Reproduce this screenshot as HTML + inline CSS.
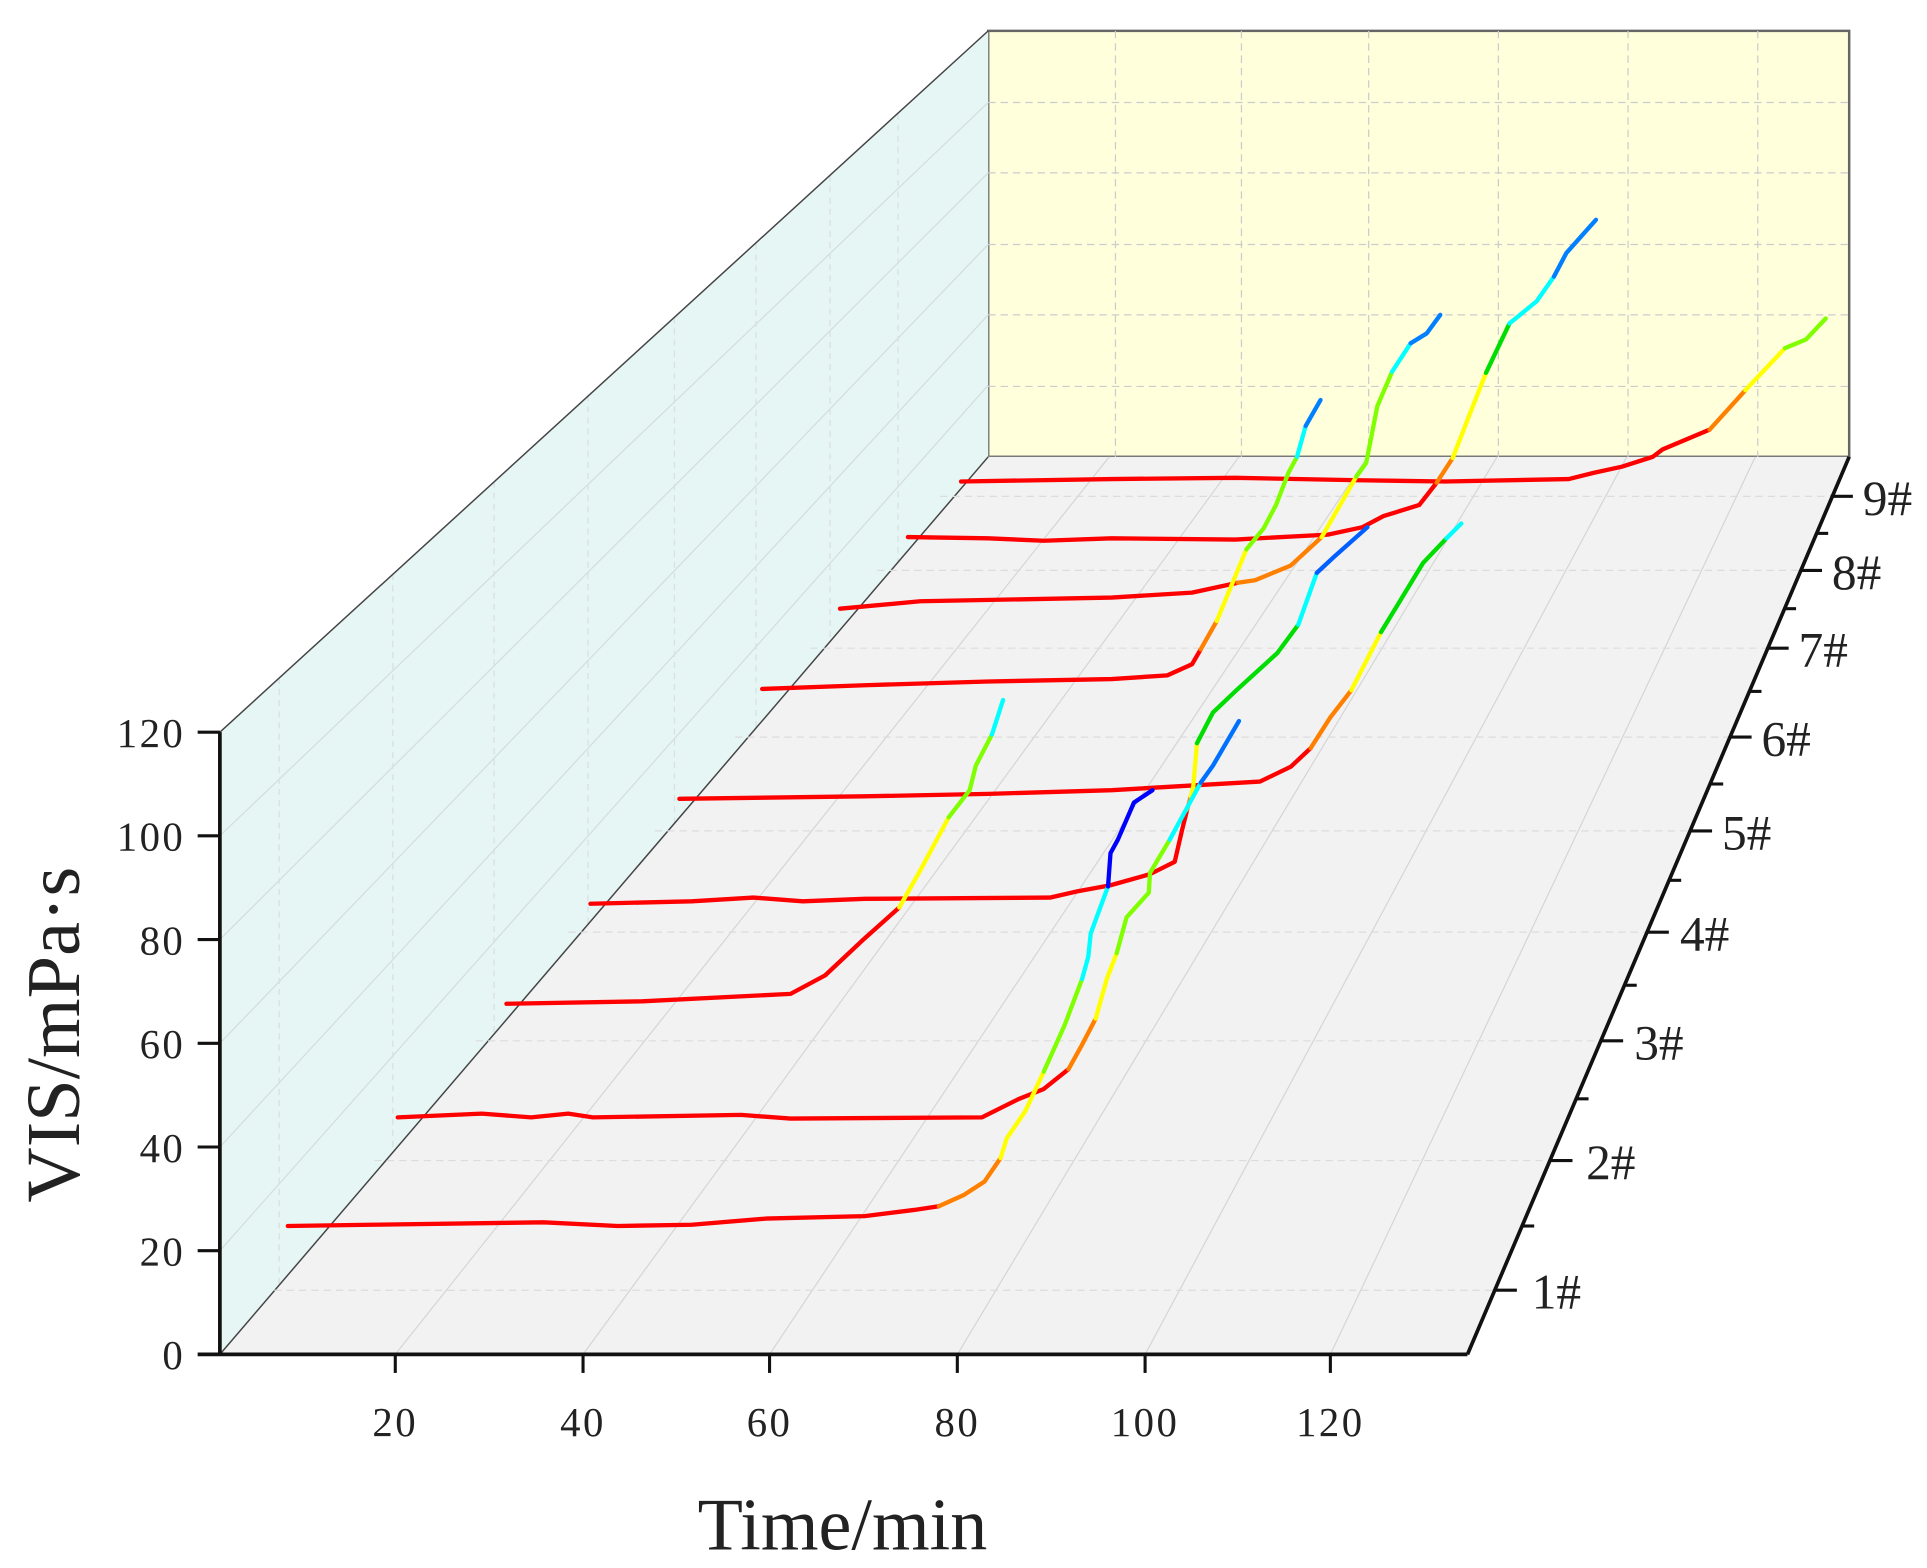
<!DOCTYPE html>
<html><head><meta charset="utf-8"><style>
html,body{margin:0;padding:0;background:#fff;}
svg{display:block;}
text{font-family:"Liberation Serif",serif;fill:#222;}
</style></head><body>
<svg width="1927" height="1568" viewBox="0 0 1560 1270" preserveAspectRatio="none" xmlns="http://www.w3.org/2000/svg">
<rect x="800" y="25" width="697" height="345" fill="#ffffdc" stroke="#666" stroke-width="2"/>
<g stroke="#ccc" stroke-dasharray="6,4" stroke-width="1">
<line x1="903" y1="25" x2="903" y2="370"/><line x1="1005" y1="25" x2="1005" y2="370"/><line x1="1108" y1="25" x2="1108" y2="370"/><line x1="1213" y1="25" x2="1213" y2="370"/><line x1="1318" y1="25" x2="1318" y2="370"/><line x1="1423" y1="25" x2="1423" y2="370"/>
<line x1="800" y1="83" x2="1497" y2="83"/><line x1="800" y1="140" x2="1497" y2="140"/><line x1="800" y1="198" x2="1497" y2="198"/><line x1="800" y1="255" x2="1497" y2="255"/><line x1="800" y1="313" x2="1497" y2="313"/>
</g>
<polygon points="178,593 800,25 800,370 178,1097" fill="#e6f6f5" stroke="none"/>
<g stroke="#d3dede" stroke-width="1">
<line x1="178" y1="1013" x2="800" y2="312"/><line x1="178" y1="929" x2="800" y2="255"/><line x1="178" y1="845" x2="800" y2="198"/><line x1="178" y1="761" x2="800" y2="140"/><line x1="178" y1="677" x2="800" y2="83"/>
</g>
<g stroke="#d8e0e0" stroke-dasharray="5,4" stroke-width="1">
<line x1="226" y1="549" x2="226" y2="1040"/><line x1="318" y1="465" x2="318" y2="935"/><line x1="400" y1="390" x2="400" y2="840"/><line x1="476" y1="320" x2="476" y2="750"/><line x1="546" y1="257" x2="546" y2="670"/><line x1="612" y1="197" x2="612" y2="590"/><line x1="672" y1="142" x2="672" y2="520"/><line x1="727" y1="92" x2="727" y2="455"/>
</g>
<line x1="178" y1="593" x2="800" y2="25" stroke="#444" stroke-width="1.2"/>
<polygon points="178,1097 1188,1097 1497,370 800,370" fill="#f2f2f2"/>
<line x1="178" y1="1097" x2="800" y2="370" stroke="#444" stroke-width="1.2"/>
<g stroke="#d6d6d6" stroke-width="1">
<line x1="320" y1="1097" x2="898" y2="370"/><line x1="472" y1="1097" x2="1003" y2="370"/><line x1="623" y1="1097" x2="1107" y2="370"/><line x1="775" y1="1097" x2="1212" y2="370"/><line x1="927" y1="1097" x2="1317" y2="370"/><line x1="1077" y1="1097" x2="1421" y2="370"/>
</g>
<g stroke="#dcdcdc" stroke-dasharray="6,4" stroke-width="1">
<line x1="222" y1="1045" x2="1210" y2="1045"/><line x1="303" y1="940" x2="1255" y2="940"/><line x1="385" y1="843" x2="1296" y2="843"/><line x1="460" y1="755" x2="1333" y2="755"/><line x1="530" y1="673" x2="1368" y2="673"/><line x1="595" y1="597" x2="1400" y2="597"/><line x1="656" y1="525" x2="1430" y2="525"/><line x1="710" y1="462" x2="1457" y2="462"/><line x1="761" y1="402" x2="1482" y2="402"/>
</g>
<g stroke="#111" stroke-width="3" fill="none">
<line x1="178" y1="593" x2="178" y2="1097"/>
<line x1="160" y1="1097" x2="1188" y2="1097"/>
<line x1="1188" y1="1097" x2="1497" y2="370"/>
</g>
<g stroke="#111" stroke-width="2.5">
<line x1="160" y1="593" x2="178" y2="593"/><line x1="160" y1="677" x2="178" y2="677"/><line x1="160" y1="761" x2="178" y2="761"/><line x1="160" y1="845" x2="178" y2="845"/><line x1="160" y1="929" x2="178" y2="929"/><line x1="160" y1="1013" x2="178" y2="1013"/>
<line x1="320" y1="1097" x2="320" y2="1112"/><line x1="472" y1="1097" x2="472" y2="1112"/><line x1="623" y1="1097" x2="623" y2="1112"/><line x1="775" y1="1097" x2="775" y2="1112"/><line x1="927" y1="1097" x2="927" y2="1112"/><line x1="1077" y1="1097" x2="1077" y2="1112"/>
<line x1="1210" y1="1045" x2="1228" y2="1045"/><line x1="1255" y1="940" x2="1273" y2="940"/><line x1="1296" y1="843" x2="1314" y2="843"/><line x1="1333" y1="755" x2="1351" y2="755"/><line x1="1368" y1="673" x2="1386" y2="673"/><line x1="1400" y1="597" x2="1418" y2="597"/><line x1="1430" y1="525" x2="1448" y2="525"/><line x1="1457" y1="462" x2="1475" y2="462"/><line x1="1482" y1="402" x2="1500" y2="402"/>
<line x1="1232" y1="993" x2="1242" y2="993"/><line x1="1276" y1="890" x2="1286" y2="890"/><line x1="1315" y1="798" x2="1325" y2="798"/><line x1="1351" y1="713" x2="1361" y2="713"/><line x1="1385" y1="635" x2="1395" y2="635"/><line x1="1416" y1="560" x2="1426" y2="560"/><line x1="1444" y1="493" x2="1454" y2="493"/><line x1="1470" y1="432" x2="1480" y2="432"/>
</g>
<g font-size="33" text-anchor="end" letter-spacing="2">
<text x="150" y="605">120</text><text x="150" y="689">100</text><text x="150" y="773">80</text><text x="150" y="857">60</text><text x="150" y="941">40</text><text x="150" y="1025">20</text><text x="150" y="1109">0</text>
</g>
<g font-size="33" text-anchor="middle" letter-spacing="2">
<text x="320" y="1163">20</text><text x="472" y="1163">40</text><text x="623" y="1163">60</text><text x="775" y="1163">80</text><text x="927" y="1163">100</text><text x="1077" y="1163">120</text>
</g>
<g font-size="40">
<text x="1240" y="1060">1#</text><text x="1284" y="955">2#</text><text x="1323" y="858">3#</text><text x="1360" y="770">4#</text><text x="1394" y="688">5#</text><text x="1426" y="612">6#</text><text x="1456" y="540">7#</text><text x="1483" y="477">8#</text><text x="1508" y="417">9#</text>
</g>
<text x="682" y="1255" font-size="60" text-anchor="middle">Time/min</text>
<text transform="translate(64,838) rotate(-90)" font-size="62" text-anchor="middle">VIS/mPa·s</text>
<g fill="none" stroke-width="3.5" stroke-linejoin="round" stroke-linecap="round">
<polyline stroke="#ff0000" points="778,390 900,388 1000,387 1100,389 1170,390 1270,388 1290,383 1313,378 1338,370 1346,364 1384,348"/>
<polyline stroke="#ff8000" points="1384,348 1413,316"/>
<polyline stroke="#ffff00" points="1413,316 1445,282"/>
<polyline stroke="#80ff00" points="1445,282 1462,275 1478,258"/>
<polyline stroke="#ff0000" points="735,435 800,436 845,438 900,436 1000,437 1075,433 1103,427 1120,418 1149,409 1163,391"/>
<polyline stroke="#ff8000" points="1163,391 1176,371"/>
<polyline stroke="#ffff00" points="1176,371 1190,335 1203,302"/>
<polyline stroke="#00dd00" points="1203,302 1222,262"/>
<polyline stroke="#00ffff" points="1222,262 1244,244 1258,224"/>
<polyline stroke="#0080ff" points="1258,224 1268,205 1292,178"/>
<polyline stroke="#ff0000" points="680,493 745,487 900,484 965,480 1002,472"/>
<polyline stroke="#ff8000" points="1002,472 1016,470 1045,458 1070,435"/>
<polyline stroke="#ffff00" points="1070,435 1098,386"/>
<polyline stroke="#80ff00" points="1098,386 1106,375 1115,329 1127,301"/>
<polyline stroke="#00ffff" points="1127,301 1142,278"/>
<polyline stroke="#0080ff" points="1142,278 1155,270 1166,255"/>
<polyline stroke="#ff0000" points="617,558 700,555 800,552 900,550 945,547 965,538 972,526"/>
<polyline stroke="#ff8000" points="972,526 985,503"/>
<polyline stroke="#ffff00" points="985,503 1009,445"/>
<polyline stroke="#80ff00" points="1009,445 1023,428 1033,409 1043,383 1050,370"/>
<polyline stroke="#00ffff" points="1050,370 1057,345"/>
<polyline stroke="#0080ff" points="1057,345 1069,324"/>
<polyline stroke="#ff0000" points="550,647 700,645 800,643 900,640 1020,633 1045,621 1061,606"/>
<polyline stroke="#ff8000" points="1061,606 1077,581 1094,559"/>
<polyline stroke="#ffff00" points="1094,559 1118,512"/>
<polyline stroke="#00dd00" points="1118,512 1132,489 1152,456 1171,436"/>
<polyline stroke="#00ffff" points="1171,436 1183,424"/>
<polyline stroke="#ff0000" points="478,732 560,730 610,727 650,730 700,728 850,727 872,722 899,717 931,708 951,698 957,672 961,656"/>
<polyline stroke="#ff8000" points="961,656 964,645"/>
<polyline stroke="#ffff00" points="964,645 966,637 969,602"/>
<polyline stroke="#00dd00" points="969,602 982,577 1001,559 1034,529 1051,506"/>
<polyline stroke="#00ffff" points="1051,506 1066,464"/>
<polyline stroke="#0060ff" points="1066,464 1080,451 1107,427"/>
<polyline stroke="#ff0000" points="410,813 520,811 640,805 668,790 700,760 728,735"/>
<polyline stroke="#ffff00" points="728,735 745,705 768,662"/>
<polyline stroke="#80ff00" points="768,662 785,640 790,620 803,595"/>
<polyline stroke="#00ffff" points="803,595 812,567"/>
<polyline stroke="#ff0000" points="322,905 390,902 430,905 460,902 480,905 600,903 640,906 795,905 825,890 845,882 865,866"/>
<polyline stroke="#ff8000" points="865,866 875,848 887,825"/>
<polyline stroke="#ffff00" points="887,825 896,793 904,772"/>
<polyline stroke="#80ff00" points="904,772 912,743 930,723 931,707 947,680"/>
<polyline stroke="#00ffff" points="947,680 972,634"/>
<polyline stroke="#0070ff" points="972,634 982,620 1003,584"/>
<polyline stroke="#ff0000" points="233,993 300,992 440,990 500,993 560,992 620,987 700,985 740,980 760,977"/>
<polyline stroke="#ff8000" points="760,977 780,968 797,957 810,938"/>
<polyline stroke="#ffff00" points="810,938 815,922 830,900 845,868"/>
<polyline stroke="#80ff00" points="845,868 862,830 876,793"/>
<polyline stroke="#00ffff" points="876,793 881,775 883,756 897,718"/>
<polyline stroke="#0000ff" points="897,718 899,691 905,680 918,650 933,640"/>
</g>
</svg>
</body></html>
